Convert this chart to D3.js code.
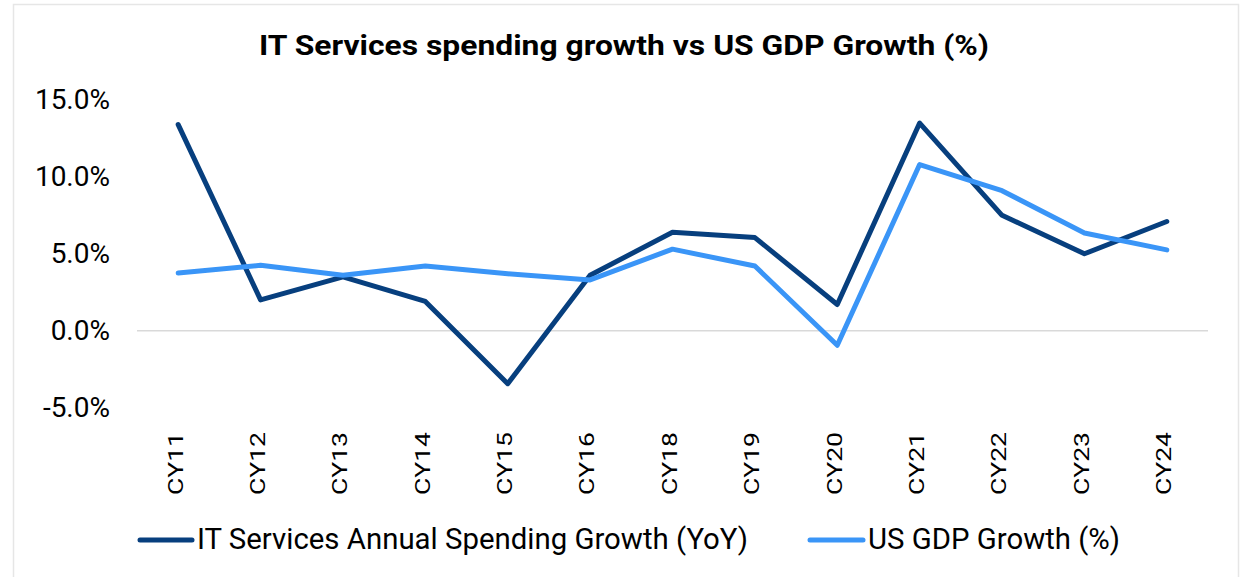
<!DOCTYPE html>
<html><head><meta charset="utf-8">
<script src="https://cdn.jsdelivr.net/npm/d3@7"></script>
<style>body{margin:0;background:#fff;}svg{display:block;font-family:Roboto,"Noto Sans",sans-serif;}</style>
</head><body>
<svg id="c" width="1243" height="577"></svg>
<script>
const categories = ["CY11","CY12","CY13","CY14","CY15","CY16","CY18","CY19","CY20","CY21","CY22","CY23","CY24"];
const itSpending = [13.4, 2.0, 3.5, 1.9, -3.45, 3.6, 6.4, 6.05, 1.7, 13.5, 7.5, 5.0, 7.1];
const gdpGrowth = [3.75, 4.25, 3.6, 4.2, 3.7, 3.3, 5.3, 4.2, -0.95, 10.8, 9.1, 6.35, 5.25];
const yTicks = [-5, 0, 5, 10, 15];
const seriesNames = ["IT Services Annual Spending Growth (YoY)", "US GDP Growth (%)"];
const colors = ["#073F7E", "#3A95F7"];

const svg = d3.select("#c");
svg.append("rect").attr("x",13.5).attr("y",4.5).attr("width",1225).attr("height",580)
  .attr("fill","#fff").attr("stroke","#e6e6e6").attr("stroke-width",1.5);

svg.append("text").attr("x",624).attr("y",55).attr("text-anchor","middle")
  .attr("font-size",28).attr("font-weight","bold").attr("fill","#000")
  .attr("textLength",730).attr("lengthAdjust","spacingAndGlyphs")
  .text("IT Services spending growth vs US GDP Growth (%)");

const x = d3.scaleBand().domain(categories).range([137,1208]);
const y = d3.scaleLinear().domain([-5,15]).range([407.5,100]);

svg.append("line").attr("x1",137).attr("x2",1208).attr("y1",y(0)).attr("y2",y(0))
  .attr("stroke","#d9d9d9").attr("stroke-width",1.5);

const yAxis = d3.axisLeft(y).tickValues(yTicks).tickSize(0)
  .tickFormat(d => (d < 0 ? "-" : "") + Math.abs(d).toFixed(1) + "%");
const gy = svg.append("g").attr("transform","translate(110,0)").call(yAxis);
gy.select(".domain").remove();
gy.selectAll("text").attr("font-size",28).attr("fill","#000").attr("font-family","Roboto").attr("x",0).attr("dy","0.32em");

const xAxis = d3.axisBottom(x).tickSize(0);
const gx = svg.append("g").attr("transform","translate(-3,0)").call(xAxis);
gx.select(".domain").remove();
gx.selectAll("text").attr("font-size",21).attr("fill","#000").attr("font-family","Roboto")
  .attr("transform","rotate(-90)").attr("text-anchor","end").attr("x",-432).attr("y",0).attr("dy","0.35em")
  .attr("textLength",63).attr("lengthAdjust","spacingAndGlyphs");

const line = d3.line().x((d,i) => x(categories[i]) + x.bandwidth()/2).y(d => y(d));
[itSpending, gdpGrowth].forEach((s,k) => {
  svg.append("path").datum(s).attr("d", line).attr("fill","none")
    .attr("stroke", colors[k]).attr("stroke-width",5)
    .attr("stroke-linejoin","round").attr("stroke-linecap","round");
});

const legend = [{x1:140,x2:192,tx:197,w:551},{x1:810,x2:863,tx:868,w:252}];
legend.forEach((l,k) => {
  svg.append("line").attr("x1",l.x1).attr("x2",l.x2).attr("y1",540).attr("y2",540)
    .attr("stroke",colors[k]).attr("stroke-width",5).attr("stroke-linecap","round");
  svg.append("text").attr("x",l.tx).attr("y",548.5).attr("font-size",29).attr("fill","#000")
    .attr("textLength",l.w).attr("lengthAdjust","spacingAndGlyphs")
    .text(seriesNames[k]);
});
</script>
</body></html>
